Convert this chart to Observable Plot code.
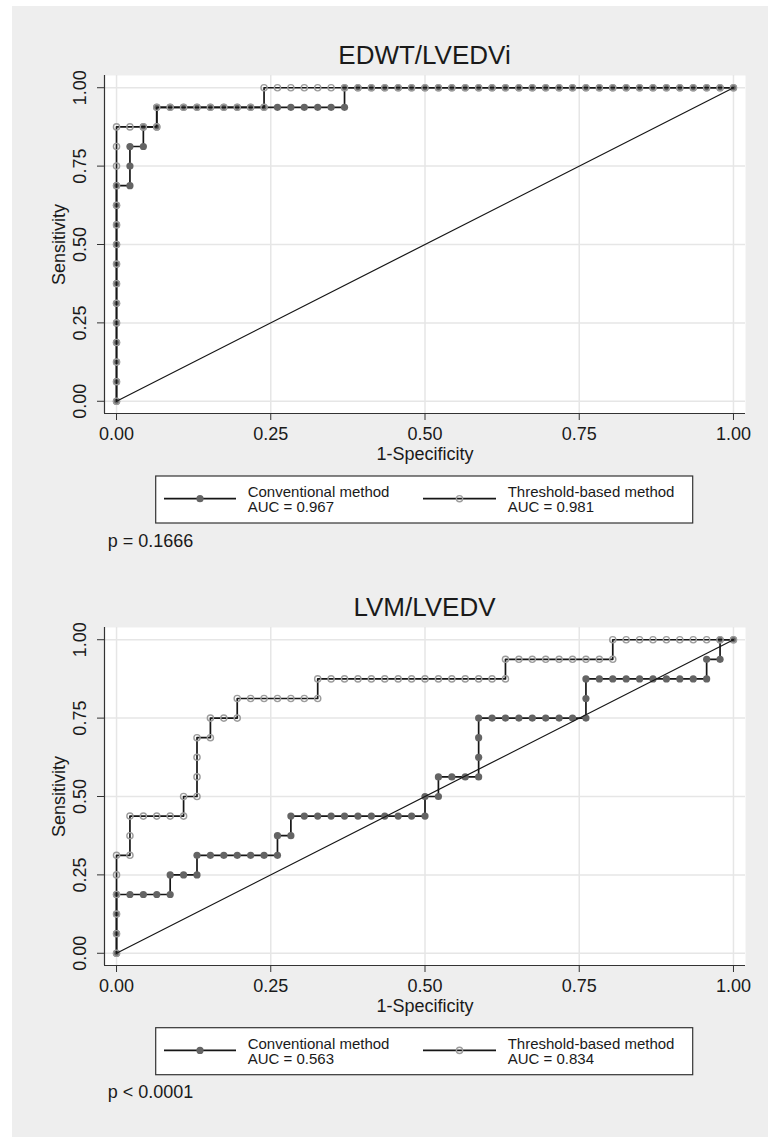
<!DOCTYPE html>
<html><head><meta charset="utf-8">
<script src="https://cdn.jsdelivr.net/npm/d3@7"></script>
<script src="https://cdn.jsdelivr.net/npm/@observablehq/plot@0.6"></script>
<style>
html,body{margin:0;padding:0;background:#fff;}
#page{position:relative;width:768px;height:1137px;overflow:hidden;font-family:'Liberation Sans',Arial,sans-serif;}
#bg{position:absolute;left:12px;top:6px;right:0;bottom:0;background:#eeeeee;}
.panel{position:absolute;left:0;}
#overlay{position:absolute;left:0;top:0;pointer-events:none;}
</style></head><body>
<div id="page">
  <div id="bg"></div>
  <div id="p1" class="panel" style="top:70px"></div>
  <div id="p2" class="panel" style="top:621.7px"></div>
  <svg id="overlay" width="768" height="1137"></svg>
</div>
<script>
// ---- data (counts of false positives out of 46 negatives, true positives out of 16 positives) ----
const nNegatives = 46;
const nPositives = 16;
const xTicks = [0, 0.25, 0.5, 0.75, 1];
const yTicks = [0, 0.25, 0.5, 0.75, 1];
const refX = [0, 1];
const refY = [0, 1];

const titles = ["EDWT/LVEDVi", "LVM/LVEDV"];
const seriesNames = ["Conventional method", "Threshold-based method"];
const aucs = [["0.967", "0.981"], ["0.563", "0.834"]];
const pTexts = ["p = 0.1666", "p < 0.0001"];

// EDWT/LVEDVi
const edwtConvFP = [0,0,0,0,0,0,0,0,0,0,0,0, 1,1,1, 2,2, 3,3, 4,5,6,7,8,9,10,11,12,13,14,15,16,17, 17,
  18,19,20,21,22,23,24,25,26,27,28,29,30,31,32,33,34,35,36,37,38,39,40,41,42,43,44,45,46];
const edwtConvTP = [0,1,2,3,4,5,6,7,8,9,10,11, 11,12,13, 13,14, 14,15, 15,15,15,15,15,15,15,15,15,15,15,15,15,15, 16,
  16,16,16,16,16,16,16,16,16,16,16,16,16,16,16,16,16,16,16,16,16,16,16,16,16,16,16,16,16];
const edwtThrFP = [0,0,0,0,0,0,0,0,0,0,0,0,0,0,0, 1,2,3, 3, 4,5,6,7,8,9,10,11, 11,
  12,13,14,15,16,17,18,19,20,21,22,23,24,25,26,27,28,29,30,31,32,33,34,35,36,37,38,39,40,41,42,43,44,45,46];
const edwtThrTP = [0,1,2,3,4,5,6,7,8,9,10,11,12,13,14, 14,14,14, 15, 15,15,15,15,15,15,15,15, 16,
  16,16,16,16,16,16,16,16,16,16,16,16,16,16,16,16,16,16,16,16,16,16,16,16,16,16,16,16,16,16,16,16,16,16,16];

// LVM/LVEDV
const lvmConvFP = [0,0,0,0, 1,2,3,4, 4, 5,6, 6, 7,8,9,10,11,12, 12, 13, 13, 14,15,16,17,18,19,20,21,22,23, 23, 24, 24,
  25,26,27, 27,27,27, 28,29,30,31,32,33,34,35, 35,35, 36,37,38,39,40,41,42,43,44, 44, 45, 45, 46];
const lvmConvTP = [0,1,2,3, 3,3,3,3, 4, 4,4, 5, 5,5,5,5,5,5, 6, 6, 7, 7,7,7,7,7,7,7,7,7,7, 8, 8, 9,
  9,9,9, 10,11,12, 12,12,12,12,12,12,12,12, 13,14, 14,14,14,14,14,14,14,14,14, 15, 15, 16, 16];
const lvmThrFP = [0,0,0,0,0,0, 1,1,1, 2,3,4,5, 5, 6, 6,6,6, 7, 7, 8,9, 9, 10,11,12,13,14,15, 15,
  16,17,18,19,20,21,22,23,24,25,26,27,28,29, 29, 30,31,32,33,34,35,36,37, 37, 38,39,40,41,42,43,44,45,46];
const lvmThrTP = [0,1,2,3,4,5, 5,6,7, 7,7,7,7, 8, 8, 9,10,11, 11, 12, 12,12, 13, 13,13,13,13,13,13, 14,
  14,14,14,14,14,14,14,14,14,14,14,14,14,14, 15, 15,15,15,15,15,15,15,15, 16, 16,16,16,16,16,16,16,16,16];

// ---- styling ----
const FONT = "'Liberation Sans', Arial, Helvetica, sans-serif";
const convFill = "#646464";
const thrStroke = "#9c9c9c";
const lineColor = "#161616";
const gridColor = "#e6e6e6";
const axisColor = "#333333";
const xDomain = [-0.0195, 1.0195];
const yDomain = [-0.039, 1.039];

function toPoints(fp, tp) {
  return fp.map((f, i) => ({x: f / nNegatives, y: tp[i] / nPositives}));
}

function panel(convFP, convTP, thrFP, thrTP) {
  const conv = toPoints(convFP, convTP);
  const thr = toPoints(thrFP, thrTP);
  const ref = refX.map((x, i) => ({x, y: refY[i]}));
  return Plot.plot({
    width: 768, height: 400,
    marginLeft: 104, marginRight: 23, marginTop: 5, marginBottom: 57,
    style: {fontFamily: FONT, fontSize: "18px", background: "transparent", color: axisColor, overflow: "visible"},
    x: {domain: xDomain},
    y: {domain: yDomain},
    marks: [
      Plot.frame({fill: "white", stroke: "none"}),
      Plot.gridX(xTicks, {stroke: gridColor, strokeOpacity: 1, strokeWidth: 1.5}),
      Plot.gridY(yTicks, {stroke: gridColor, strokeOpacity: 1, strokeWidth: 1.5}),
      Plot.ruleX([xDomain[0]], {stroke: axisColor, strokeWidth: 1.2}),
      Plot.ruleY([yDomain[0]], {stroke: axisColor, strokeWidth: 1.2}),
      Plot.axisX(xTicks, {tickFormat: d => d.toFixed(2), tickSize: 7, tickPadding: 6.5, fill: "#1a1a1a",
        label: "1-Specificity", labelAnchor: "center", labelOffset: 46, labelArrow: "none"}),
      Plot.axisY(yTicks, {tickFormat: d => d.toFixed(2), tickSize: 7, tickPadding: 12, tickRotate: -90, fill: "#1a1a1a",
        label: "Sensitivity", labelAnchor: "center", labelOffset: 52, labelArrow: "none"}),
      Plot.line(conv, {x: "x", y: "y", stroke: lineColor, strokeWidth: 1.7}),
      Plot.dot(conv, {x: "x", y: "y", r: 3.6, fill: convFill, stroke: "none"}),
      Plot.line(thr, {x: "x", y: "y", stroke: lineColor, strokeWidth: 1.7}),
      Plot.dot(thr, {x: "x", y: "y", r: 3.1, fill: "none", stroke: thrStroke, strokeWidth: 1.4}),
      Plot.line(ref, {x: "x", y: "y", stroke: lineColor, strokeWidth: 1.2})
    ]
  });
}

document.getElementById("p1").appendChild(panel(edwtConvFP, edwtConvTP, edwtThrFP, edwtThrTP));
document.getElementById("p2").appendChild(panel(lvmConvFP, lvmConvTP, lvmThrFP, lvmThrTP));

// ---- titles, legends, p-values ----
const ov = d3.select("#overlay");
const offsets = [0, 551.7];
offsets.forEach((dy, k) => {
  ov.append("text").attr("x", 424.5).attr("y", 64 + dy).attr("text-anchor", "middle")
    .attr("font-family", FONT).attr("font-size", 26).attr("fill", "#1a1a1a").text(titles[k]);
  ov.append("rect").attr("x", 155.7).attr("y", 476 + dy).attr("width", 537).attr("height", 47)
    .attr("fill", "white").attr("stroke", axisColor).attr("stroke-width", 1.2);
  const items = [{x0: 164, x1: 236, tx: 247.7}, {x0: 423, x1: 496, tx: 507.7}];
  items.forEach((it, j) => {
    const cy = 498.7 + dy;
    ov.append("line").attr("x1", it.x0).attr("x2", it.x1).attr("y1", cy).attr("y2", cy)
      .attr("stroke", lineColor).attr("stroke-width", 1.7);
    const cx = (it.x0 + it.x1) / 2;
    if (j === 0) ov.append("circle").attr("cx", cx).attr("cy", cy).attr("r", 3.6).attr("fill", convFill);
    else ov.append("circle").attr("cx", cx).attr("cy", cy).attr("r", 3.1).attr("fill", "none")
      .attr("stroke", thrStroke).attr("stroke-width", 1.4);
    ov.append("text").attr("x", it.tx).attr("y", 497 + dy).attr("font-family", FONT).attr("font-size", 15)
      .attr("fill", "#1a1a1a").text(seriesNames[j]);
    ov.append("text").attr("x", it.tx).attr("y", 512 + dy).attr("font-family", FONT).attr("font-size", 15)
      .attr("fill", "#1a1a1a").text("AUC = " + aucs[k][j]);
  });
  ov.append("text").attr("x", 107.7).attr("y", 546.7 + dy).attr("font-family", FONT).attr("font-size", 18)
    .attr("fill", "#1a1a1a").text(pTexts[k]);
});
</script>
</body></html>
